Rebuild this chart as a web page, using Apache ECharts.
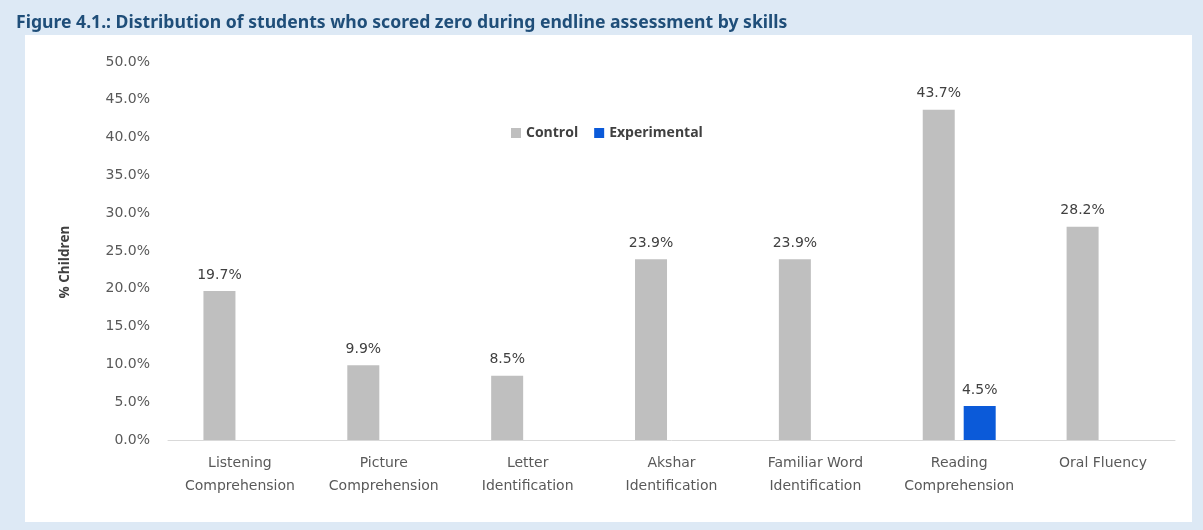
<!DOCTYPE html>
<html>
<head>
<meta charset="utf-8">
<script src="https://cdn.jsdelivr.net/npm/echarts@6/dist/echarts.min.js"></script>
<style>
html, body { margin: 0; padding: 0; background: #dde9f5; }
#main { width: 1203px; height: 530px; }
</style>
</head>
<body>
<div id="main"></div>
<script>
// skills on the x axis
var categories = ['Listening\nComprehension', 'Picture\nComprehension', 'Letter\nIdentification',
	'Akshar\nIdentification', 'Familiar Word\nIdentification', 'Reading\nComprehension', 'Oral Fluency'];
// % children who scored zero
var controlData = [19.7, 9.9, 8.5, 23.9, 23.9, 43.7, 28.2];
var experimentalData = [null, null, null, null, null, 4.5, null];
var seriesNames = ['Control', 'Experimental'];
var yTicks = { min: 0, max: 50, interval: 5 };

var txt = '#595959';
var font = 'DejaVu Sans';

var myChart = echarts.init(document.getElementById('main'));
var options = {
	backgroundColor: '#dde9f5',
	color: ['#bfbfbf', '#0b5ad9'],
	textStyle: { fontFamily: font },
	title: {
		text: 'Figure 4.1.: Distribution of students who scored zero during endline assessment by skills',
		left: 11,
		top: 9,
		textStyle: { color: '#1f4e79', fontSize: 17.6, fontWeight: 'bold', fontFamily: 'Noto Sans' }
	},
	graphic: [{
		type: 'rect',
		z: -10,
		shape: { x: 25, y: 35, width: 1167, height: 487 },
		style: { fill: '#ffffff' }
	}],
	legend: {
		data: seriesNames,
		left: 506,
		top: 121,
		itemWidth: 10,
		itemHeight: 10,
		itemGap: 16,
		icon: 'rect',
		textStyle: { color: '#404040', fontSize: 14, fontWeight: 'bold', fontFamily: 'Open Sans' }
	},
	grid: { left: 168, right: 28, top: 62, bottom: 90 },
	xAxis: {
		type: 'category',
		data: categories,
		axisTick: { show: false },
		axisLine: { lineStyle: { color: '#d9d9d9' } },
		axisLabel: { color: txt, fontSize: 14, lineHeight: 23, margin: 12, interval: 0 }
	},
	yAxis: {
		type: 'value',
		min: yTicks.min,
		max: yTicks.max,
		interval: yTicks.interval,
		name: '% Children',
		nameLocation: 'middle',
		nameGap: 96,
		nameTextStyle: { color: '#404040', fontSize: 13.5, fontWeight: 'bold', fontFamily: 'Open Sans', padding: [0, 22, 0, 0] },
		splitLine: { show: false },
		axisLine: { show: false },
		axisTick: { show: false },
		axisLabel: {
			color: txt, fontSize: 14, margin: 18,
			formatter: function (v) { return v.toFixed(1) + '%'; }
		}
	},
	series: [
		{
			name: seriesNames[0],
			type: 'bar',
			barWidth: 32,
			barGap: '28%',
			data: controlData,
			label: {
				show: true, position: 'top', distance: 9, color: '#404040', fontSize: 14,
				formatter: function (p) { return p.value.toFixed(1) + '%'; }
			}
		},
		{
			name: seriesNames[1],
			type: 'bar',
			barWidth: 32,
			data: experimentalData,
			label: {
				show: true, position: 'top', distance: 9, color: '#404040', fontSize: 14,
				formatter: function (p) { return p.value == null ? '' : p.value.toFixed(1) + '%'; }
			}
		}
	]
};
myChart.setOption(options);
</script>
</body>
</html>
